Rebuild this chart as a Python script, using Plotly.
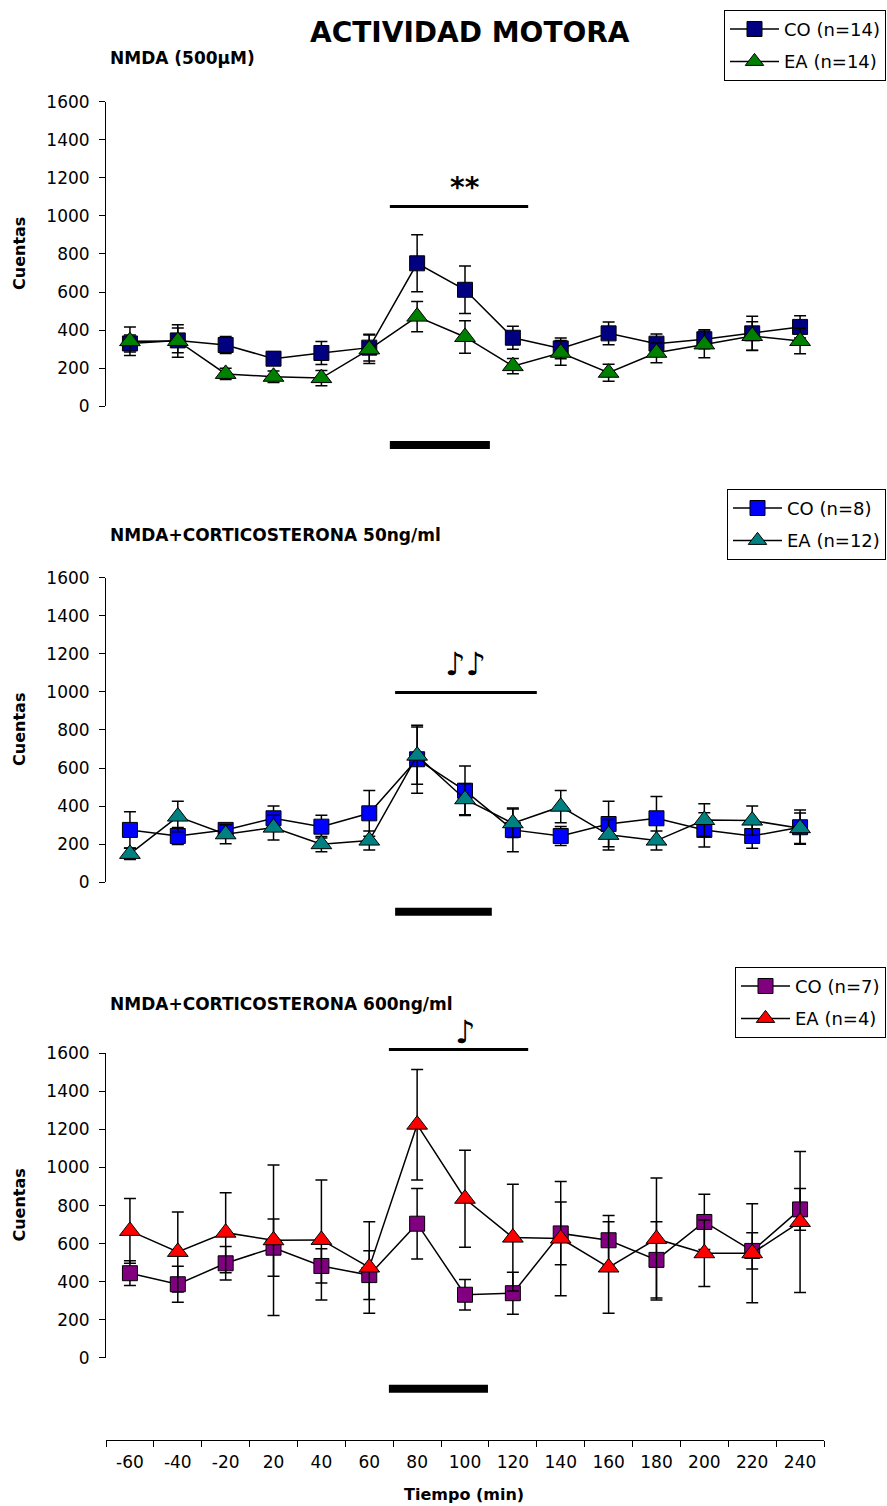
import plotly.graph_objects as go

# ---------------- data ----------------
TIMES = ["-60", "-40", "-20", "20", "40", "60", "80", "100", "120",
         "140", "160", "180", "200", "220", "240"]

# Panel 1: NMDA (500 µM)
P1_CO = [330, 346, 322, 250, 280, 308, 751, 612, 360, 304, 383, 329, 352, 383, 417]
P1_CO_ERR = [45, 65, 45, 35, 60, 70, 150, 125, 60, 55, 60, 50, 50, 90, 58]
P1_EA = [342, 343, 170, 155, 148, 299, 471, 364, 211, 281, 176, 281, 325, 369, 343]
P1_EA_ERR = [75, 85, 30, 30, 40, 75, 80, 85, 40, 65, 45, 52, 70, 75, 67]

# Panel 2: NMDA + corticosterona 50 ng/ml
P2_CO = [275, 243, 275, 336, 292, 362, 646, 481, 275, 243, 306, 336, 275, 243, 289]
P2_CO_ERR = [95, 45, 25, 65, 60, 120, 178, 130, 115, 50, 120, 115, 90, 65, 90]
P2_EA = [149, 345, 252, 287, 200, 219, 665, 436, 310, 397, 249, 219, 327, 324, 284]
P2_EA_ERR = [30, 80, 50, 65, 40, 50, 150, 82, 75, 85, 80, 50, 85, 77, 80]

# Panel 3: NMDA + corticosterona 600 ng/ml
P3_CO = [445, 387, 497, 579, 483, 435, 705, 332, 340, 654, 618, 515, 714, 562, 780]
P3_CO_ERR = [65, 95, 88, 150, 90, 128, 185, 80, 110, 165, 130, 200, 145, 95, 110]
P3_EA = [667, 557, 658, 618, 620, 475, 1225, 836, 632, 627, 475, 625, 550, 550, 714]
P3_EA_ERR = [170, 210, 210, 395, 315, 240, 290, 255, 280, 300, 240, 320, 175, 260, 370]

Y_TICKS = [0, 200, 400, 600, 800, 1000, 1200, 1400, 1600]

SUBTITLES = ["NMDA (500µM)", "NMDA+CORTICOSTERONA 50ng/ml", "NMDA+CORTICOSTERONA 600ng/ml"]
CO_NAMES = ["CO (n=14)", "CO (n=8)", "CO (n=7)"]
EA_NAMES = ["EA (n=14)", "EA (n=12)", "EA (n=4)"]
SIG_TEXT = ["**", "♪♪", "♪"]

# ---------------- styling ----------------
W = 887
H = 1512                 # figure height
TOPOFF = 8.3             # observed top offset of the page
SCALE = 1506 / 1523      # observed vertical compression of the photograph
FONT = "DejaVu Sans"
CO_COLORS = ["#000080", "#0000FF", "#800080"]
EA_COLORS = ["#008000", "#008080", "#FF0000"]


def py(p):
    """target picture pixel row -> paper fraction"""
    return 1 - (p / SCALE - TOPOFF) / H


X_DOM = [106 / W, 824 / W]
# picture pixel rows of value 0 and 1600 for each panel
PANEL_PX = [(405.3, 100.1), (882.3, 577.0), (1359.0, 1053.6)]
Y_DOMS = [[py(b), py(t)] for b, t in PANEL_PX]

LEGEND_BOX = [(886, 8), (886, 488), (886, 967)]
SUB_Y = [56, 534, 1004]

# decoration positions in axis-domain units (category index for x)
SIG_LINE = [(5.43, 8.32, 0.656), (5.54, 8.50, 0.623), (5.41, 8.32, 1.012)]
SIG_TXT = [(0.78, 28), (0.785, 32), (1.14, 32)]
TREAT_BAR = [(5.43, 7.52, -0.127), (5.54, 7.56, -0.097), (5.41, 7.48, -0.101)]

N = len(TIMES)


def idx_dom(i):
    return (i + 0.5) / N


panels = [
    (P1_CO, P1_CO_ERR, P1_EA, P1_EA_ERR),
    (P2_CO, P2_CO_ERR, P2_EA, P2_EA_ERR),
    (P3_CO, P3_CO_ERR, P3_EA, P3_EA_ERR),
]

fig = go.Figure()
shapes = []
annotations = []
layout = {}

for k, (co, co_err, ea, ea_err) in enumerate(panels):
    n = "" if k == 0 else str(k + 1)
    xa, ya = "x" + n, "y" + n
    leg = "legend" + n
    for vals, err, name, color, sym, size in [
        (co, co_err, CO_NAMES[k], CO_COLORS[k], "square", 15),
        (ea, ea_err, EA_NAMES[k], EA_COLORS[k], "triangle-up", 18),
    ]:
        fig.add_trace(go.Scatter(
            x=TIMES, y=vals, name=name, mode="lines+markers",
            xaxis=xa, yaxis=ya, legend=leg, legendgroup=name,
            line=dict(color="black", width=1.5),
            marker=dict(symbol=sym, size=size, color=color,
                        line=dict(color="black", width=1)),
            error_y=dict(type="data", array=err, visible=True,
                         color="black", thickness=1.5, width=6),
        ))

    ax_common = dict(type="category", categoryorder="array", categoryarray=TIMES,
                     range=[-0.5, N - 0.5], domain=X_DOM, showgrid=False,
                     zeroline=False)
    if k < 2:
        layout["xaxis" + n] = dict(ax_common, anchor=ya, visible=False)
    else:
        layout["xaxis" + n] = dict(
            ax_common, anchor="free", position=py(1441),
            showline=True, linecolor="black", linewidth=1,
            ticks="outside", tickson="boundaries", ticklen=6, tickcolor="black",
            ticklabelstandoff=7,
            tickfont=dict(family=FONT, size=17, color="black"))
    layout["yaxis" + n] = dict(
        domain=Y_DOMS[k], range=[0, 1600], anchor=xa,
        tickmode="array", tickvals=Y_TICKS,
        showline=True, linecolor="black", linewidth=1,
        ticks="outside", ticklen=6, tickcolor="black",
        ticklabelstandoff=6,
        showgrid=False, zeroline=False,
        tickfont=dict(family=FONT, size=17, color="black"))

    lx, ly = LEGEND_BOX[k]
    layout[leg] = dict(
        x=lx / W, y=py(ly), xanchor="right", yanchor="top",
        bgcolor="white", bordercolor="black", borderwidth=1,
        font=dict(family=FONT, size=18, color="black"),
        itemwidth=49, tracegroupgap=6)

    xd, yd = xa + " domain", ya + " domain"
    x0, x1, yv = SIG_LINE[k]
    shapes.append(dict(type="line", xref=xd, yref=yd, x0=idx_dom(x0), x1=idx_dom(x1),
                       y0=yv, y1=yv, line=dict(color="black", width=3)))
    x0, x1, yv = TREAT_BAR[k]
    shapes.append(dict(type="line", xref=xd, yref=yd, x0=idx_dom(x0), x1=idx_dom(x1),
                       y0=yv, y1=yv, line=dict(color="black", width=8)))
    ty, ts = SIG_TXT[k]
    annotations.append(dict(text="<b>%s</b>" % SIG_TEXT[k], xref=xd, yref=yd,
                            x=idx_dom(7), y=ty, showarrow=False,
                            font=dict(family=FONT, size=ts, color="black")))
    annotations.append(dict(text="<b>%s</b>" % SUBTITLES[k], xref="paper", yref="paper",
                            x=108 / W, y=py(SUB_Y[k]), xanchor="left", yanchor="middle",
                            showarrow=False, font=dict(family=FONT, size=17, color="black")))
    yc = (PANEL_PX[k][0] + PANEL_PX[k][1]) / 2
    annotations.append(dict(text="<b>Cuentas</b>", xref="paper", yref="paper",
                            x=20 / W, y=py(yc), textangle=-90, showarrow=False,
                            xanchor="center", yanchor="middle",
                            font=dict(family=FONT, size=16, color="black")))

annotations.append(dict(text="<b>ACTIVIDAD MOTORA</b>", xref="paper", yref="paper",
                        x=470 / W, y=py(31), showarrow=False,
                        xanchor="center", yanchor="middle",
                        font=dict(family=FONT, size=28, color="black")))
annotations.append(dict(text="<b>Tiempo (min)</b>", xref="paper", yref="paper",
                        x=464 / W, y=py(1496), showarrow=False,
                        xanchor="center", yanchor="middle",
                        font=dict(family=FONT, size=16, color="black")))

fig.update_layout(
    width=W, height=H,
    margin=dict(l=0, r=0, t=0, b=0),
    paper_bgcolor="white", plot_bgcolor="white",
    font=dict(family=FONT, size=16, color="black"),
    shapes=shapes, annotations=annotations,
    **layout,
)

fig.write_html("out.html", config={"displayModeBar": False},
               post_script="document.body.style.margin='0';")
